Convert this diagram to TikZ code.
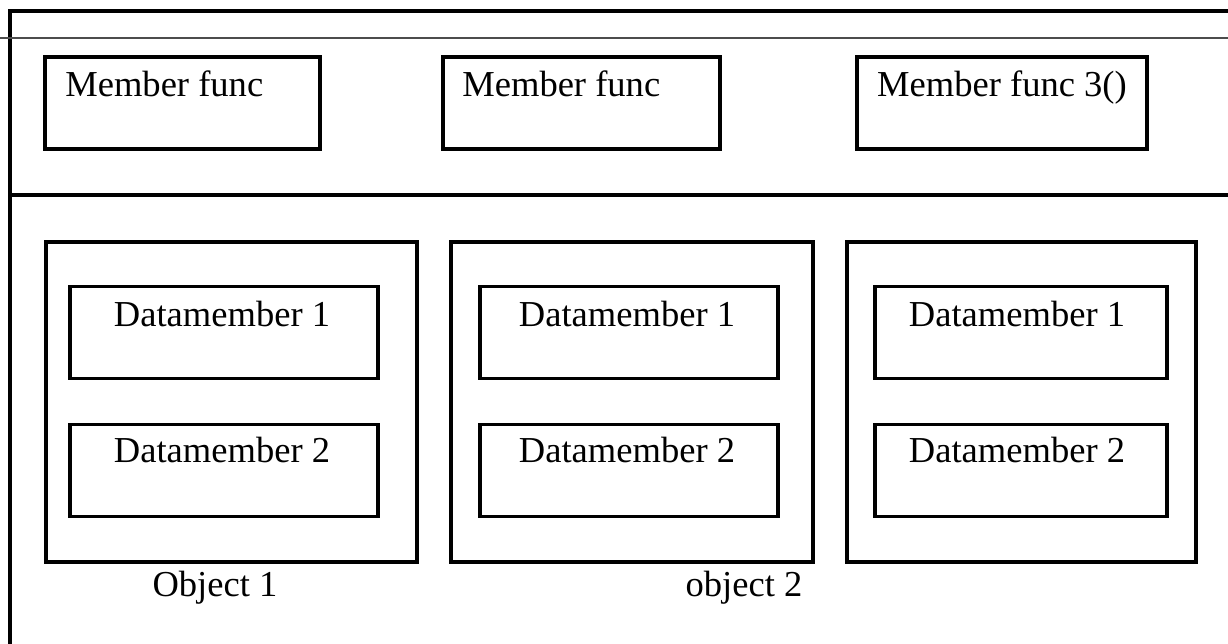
\documentclass[tikz,border=0pt]{standalone}
\usepackage{fontspec}
\setmainfont{Liberation Serif}
\begin{document}
\begin{tikzpicture}[
        x=0.02cm, y=-0.02cm,
        caixa/.style={rectangle, draw, line width=0.075cm, inner sep=0pt},
        funcao/.style={caixa, minimum height=1.84cm},
        objeto/.style={caixa, minimum height=6.4cm},
        membro/.style={caixa, minimum height=1.84cm},
        rotulo/.style={anchor=base, inner sep=0pt},
        every node/.style={font=\fontsize{20.8}{25}\selectfont}
    ]

        \useasboundingbox (0,0) rectangle (1228,644);

        % ==================================================
        % MOLDURA
        % ==================================================

        \coordinate (topoE) at (10,11);
        \coordinate (topoD) at (1228,11);
        \coordinate (baseE) at (10,644);
        \coordinate (meioE) at (10,195);
        \coordinate (meioD) at (1228,195);
        \coordinate (cinzaE) at (0,38);
        \coordinate (cinzaD) at (1228,38);

        \draw[line width=0.075cm] (topoD) -- (topoE) -- (baseE);
        \draw[line width=0.075cm] (meioE) -- (meioD);
        \draw[line width=0.035cm, black!70] (cinzaE) -- (cinzaD);

        % ==================================================
        % FUNCOES MEMBRO
        % ==================================================

        \node[funcao, minimum width=5.5cm]  (f1) at (182.5,103) {};
        \node[funcao, minimum width=5.54cm] (f2) at (581.5,103) {};
        \node[funcao, minimum width=5.8cm]  (f3) at (1002,103) {};

        \node[rotulo, anchor=base west] (tf1) at (65,97) {Member func};
        \node[rotulo, anchor=base west] (tf2) at (462,97) {Member func};
        \node[rotulo] (tf3) at (1002,97) {Member func 3()};

        % ==================================================
        % OBJETOS
        % ==================================================

        \node[objeto, minimum width=7.42cm] (o1) at (231.5,402) {};
        \node[objeto, minimum width=7.24cm] (o2) at (632,402) {};
        \node[objeto, minimum width=6.98cm] (o3) at (1021.5,402) {};

        % Dados de cada objeto
        \node[membro, minimum width=6.16cm] (a1) at (224,332.5) {};
        \node[membro, minimum width=6.16cm] (a2) at (224,470.5) {};
        \node[membro, minimum width=5.96cm] (b1) at (629,332.5) {};
        \node[membro, minimum width=5.96cm] (b2) at (629,470.5) {};
        \node[membro, minimum width=5.84cm] (c1) at (1021,332.5) {};
        \node[membro, minimum width=5.84cm] (c2) at (1021,470.5) {};

        \node[rotulo] (ta1) at (222,327) {Datamember 1};
        \node[rotulo] (ta2) at (222,463) {Datamember 2};
        \node[rotulo] (tb1) at (627,327) {Datamember 1};
        \node[rotulo] (tb2) at (627,463) {Datamember 2};
        \node[rotulo] (tc1) at (1017,327) {Datamember 1};
        \node[rotulo] (tc2) at (1017,463) {Datamember 2};

        % Nomes
        \node[rotulo] (n1) at (215,597) {Object 1};
        \node[rotulo] (n2) at (744,597) {object 2};

    \end{tikzpicture}
\end{document}
